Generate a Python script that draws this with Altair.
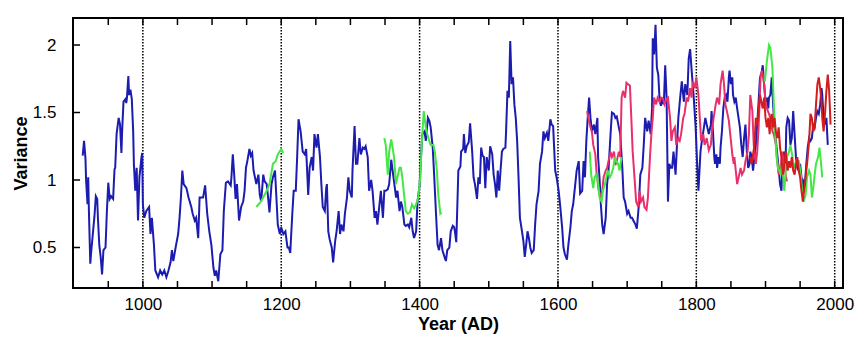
import altair as alt
import pandas as pd

# ---------------- data ----------------
blue_years = [913,915,917,918,920,921,922,924,925,928,930,932,934,935,937,939,941,943,946,948,
              950,952,954,957,959,960,962,965,967,969,970,972,975,976,977,979,980,982,984,986,
              987,989,991,993,995,998,999,1000,1002,1005,1009,1011,1013,1016,1018,1022,1025,1028,1031,1034,
              1037,1040,1042,1044,1048,1051,1053,1055,1057,1059,1063,1066,1070,1072,1075,1077,1080,1082,1087,1090,
              1093,1096,1099,1102,1104,1106,1109,1112,1115,1117,1120,1123,1127,1128,1130,1132,1134,1136,1139,1142,
              1145,1147,1149,1151,1154,1156,1158,1160,1162,1164,1167,1169,1171,1174,1176,1179,1181,1183,1186,1188,
              1191,1193,1195,1198,1200,1203,1206,1209,1211,1213,1216,1218,1221,1223,1225,1228,1231,1234,1236,1239,
              1241,1244,1246,1248,1251,1253,1256,1258,1260,1263,1265,1266,1268,1270,1273,1275,1278,1280,1283,1285,
              1287,1290,1292,1295,1297,1299,1302,1303,1306,1308,1310,1313,1315,1318,1320,1322,1325,1327,1330,1332,
              1335,1337,1339,1342,1344,1347,1349,1351,1354,1356,1359,1361,1363,1366,1368,1371,1373,1375,1378,1380,
              1383,1385,1388,1390,1392,1395,1397,1400,1402,1404,1407,1409,1412,1414,1416,1419,1421,1424,1426,1428,
              1431,1433,1436,1438,1440,1443,1445,1448,1450,1451,1453,1455,1456,1459,1460,1463,1464,1466,1468,1471,
              1473,1476,1478,1480,1483,1485,1487,1489,1491,1493,1495,1497,1500,1502,1505,1507,1509,1511,1513,1515,
              1517,1519,1521,1524,1525,1527,1529,1531,1533,1535,1537,1539,1541,1543,1545,1548,1550,1552,1554,1556,
              1558,1560,1562,1565,1567,1569,1572,1574,1577,1579,1581,1584,1586,1589,1591,1593,1596,1598,1601,1603,
              1606,1608,1610,1613,1615,1618,1620,1622,1625,1627,1630,1632,1635,1637,1639,1641,1643,1645,1647,1649,
              1652,1654,1657,1658,1660,1662,1664,1666,1669,1671,1673,1676,1678,1681,1683,1685,1688,1690,1693,1695,
              1697,1700,1702,1705,1707,1709,1712,1714,1717,1719,1722,1724,1726,1729,1731,1734,1736,1737,1739,1741,
              1743,1745,1747,1749,1751,1753,1755,1757,1759,1761,1763,1765,1767,1770,1772,1774,1777,1779,1782,1784,
              1787,1789,1791,1794,1796,1799,1801,1803,1806,1808,1811,1813,1815,1818,1821,1822,1824,1826,1827,1829,
              1830,1832,1834,1835,1837,1839,1841,1843,1845,1847,1848,1850,1852,1853,1855,1857,1859,1861,1863,1865,
              1867,1869,1871,1873,1875,1877,1878,1880,1882,1884,1886,1888,1890,1892,1894,1896,1898,1900,1902,1904,
              1905,1907,1909,1911,1913,1915,1917,1919,1921,1923,1925,1927,1929,1930,1932,1934,1936,1938,1940,1942,
              1944,1946,1948,1950,1952,1954,1955,1957,1959,1961,1963,1965,1967,1969,1971,1973,1975,1977,1979,1981,
              1982,1984,1986,1988,1990]
blue_vals = [1.18,1.29,1.16,0.99,0.82,1.02,0.77,0.38,0.45,0.62,0.73,0.88,0.86,0.72,0.52,0.43,0.30,0.48,0.50,0.77,
             0.98,0.86,0.88,0.86,1.08,1.09,1.34,1.46,1.41,1.20,1.36,1.58,1.60,1.57,1.61,1.77,1.63,1.67,1.60,1.36,
             1.12,0.92,1.09,0.70,1.02,1.17,1.20,0.82,0.72,0.77,0.80,0.60,0.72,0.52,0.33,0.28,0.33,0.30,0.33,0.28,
             0.33,0.39,0.48,0.40,0.52,0.60,0.72,0.87,1.07,0.97,0.94,0.87,0.80,0.75,0.70,0.72,0.57,0.87,0.87,0.96,
             0.75,0.62,0.52,0.35,0.29,0.33,0.25,0.45,0.48,0.77,0.98,0.99,0.96,1.02,1.19,1.04,0.86,0.97,0.70,0.80,
             0.84,0.92,1.09,1.14,1.23,1.18,1.20,1.07,1.02,0.97,1.04,0.89,0.84,1.04,0.99,0.97,0.87,0.76,0.97,1.02,
             1.07,0.87,0.67,0.60,0.65,0.60,0.62,0.50,0.50,0.46,0.75,0.92,0.92,1.17,1.45,1.36,1.21,1.19,1.23,0.89,
             1.09,1.17,1.07,1.34,1.24,1.34,1.17,0.97,0.80,0.77,0.94,0.97,0.62,0.56,0.50,0.39,0.55,0.62,0.77,0.60,
             0.67,0.62,0.75,0.87,1.02,0.92,0.87,1.07,1.40,1.12,1.12,1.31,1.19,1.24,1.23,1.25,1.17,0.92,1.00,0.92,
             0.72,0.77,0.67,0.82,0.92,0.72,0.92,0.92,0.93,0.97,1.15,1.07,0.99,0.87,0.92,0.77,0.84,0.80,0.67,0.66,
             0.67,0.65,0.72,0.62,0.57,0.62,0.84,0.96,1.17,1.34,1.36,1.29,1.46,1.44,1.39,1.24,1.04,0.72,0.52,0.48,
             0.57,0.48,0.43,0.40,0.48,0.50,0.62,0.66,0.65,0.62,0.54,0.89,1.07,1.10,1.21,1.23,1.34,1.20,1.25,1.28,
             1.42,1.21,1.02,0.97,0.86,1.02,0.97,1.24,1.18,1.17,0.94,1.17,1.07,1.25,1.19,1.04,0.97,0.87,1.07,0.92,
             1.07,1.21,1.23,1.24,1.36,1.66,1.61,2.03,1.71,1.76,1.56,1.46,1.29,1.02,0.72,0.62,0.55,0.43,0.52,0.62,
             0.57,0.50,0.46,0.48,0.67,0.82,0.92,1.12,1.21,1.36,1.31,1.35,1.29,1.45,1.41,1.40,1.07,1.02,0.92,0.82,
             0.65,0.50,0.45,0.41,0.52,0.65,0.77,0.82,0.97,1.07,1.14,0.90,0.92,1.14,1.02,1.29,1.46,1.61,1.46,1.36,
             1.41,1.34,1.46,1.17,1.02,0.82,0.67,0.60,0.72,0.97,1.07,1.34,1.50,1.49,1.46,1.47,1.39,1.34,1.09,0.87,
             0.84,0.75,0.77,0.72,0.72,0.70,0.67,0.64,0.82,1.04,1.09,1.26,1.46,1.36,1.44,1.34,1.53,2.05,1.93,2.15,
             1.83,1.78,1.58,1.55,1.61,1.56,1.85,1.61,0.84,1.12,1.09,1.09,1.21,1.04,1.26,1.46,1.63,1.73,1.58,1.71,
             1.63,1.90,1.97,1.76,1.63,1.39,1.14,0.92,1.21,1.29,1.39,1.46,1.41,1.34,1.41,1.51,1.36,1.17,1.12,1.19,
             1.09,1.17,1.12,1.24,1.36,1.53,1.61,1.63,1.58,1.76,1.81,1.71,1.76,1.63,1.58,1.61,1.53,1.46,1.39,1.26,
             1.17,1.31,1.41,1.21,1.09,1.12,1.21,1.17,1.07,1.17,1.26,1.41,1.58,1.76,1.78,1.85,1.71,1.58,1.61,1.53,
             1.61,1.63,1.76,1.56,1.39,1.29,1.19,1.09,0.97,0.92,1.14,1.21,1.12,1.39,1.46,1.44,1.26,1.31,1.51,1.34,
             1.17,1.09,1.07,1.12,1.02,0.92,0.99,0.97,1.12,1.24,1.31,1.29,1.31,1.41,1.39,1.46,1.51,1.49,1.56,1.68,
             1.63,1.46,1.41,1.46,1.26]

pink_years = [1642,1644,1647,1649,1651,1654,1656,1659,1661,1664,1666,1669,1671,1673,1676,1678,1681,1683,1685,1688,
              1690,1692,1694,1697,1699,1701,1704,1706,1708,1711,1713,1716,1718,1720,1723,1725,1728,1730,1733,1735,
              1737,1739,1742,1744,1747,1749,1752,1754,1757,1759,1762,1764,1766,1769,1771,1774,1776,1778,1781,1783,
              1786,1788,1791,1793,1795,1798,1800,1803,1805,1807,1810,1812,1815,1818,1821,1823,1825,1828,1830,1833,
              1835,1838,1840,1842,1845,1847,1850,1852,1854,1855,1857,1859,1862,1864,1866,1869,1871,1874,1876,1878,
              1881,1883,1886,1888,1890,1893,1895,1898,1900,1902,1905,1907,1910,1912,1915,1917,1919,1922,1924,1926,
              1929,1931]
pink_vals = [1.51,1.46,1.39,1.36,1.26,1.19,1.04,0.92,0.87,0.92,1.02,1.07,1.09,1.14,1.21,1.17,1.21,1.11,1.14,1.21,
             1.17,1.61,1.66,1.61,1.72,1.71,1.70,1.46,1.21,0.99,0.84,0.80,0.92,0.84,0.87,0.80,0.78,0.87,1.17,1.34,
             1.46,1.61,1.56,1.61,1.58,1.61,1.60,1.56,1.60,1.61,1.46,1.29,1.36,1.39,1.26,1.31,1.29,1.34,1.46,1.49,
             1.61,1.58,1.68,1.61,1.73,1.68,1.76,1.63,1.46,1.29,1.34,1.26,1.31,1.22,1.26,1.39,1.46,1.56,1.61,1.56,
             1.71,1.81,1.71,1.56,1.49,1.44,1.29,1.19,1.12,1.17,1.07,0.97,1.04,1.09,1.04,1.07,1.14,1.21,1.34,1.63,
             1.51,1.26,1.12,1.21,1.39,1.78,1.81,1.71,1.58,1.53,1.49,1.46,1.36,1.34,1.26,1.14,1.04,1.09,1.21,1.14,
             1.04,0.99]

green_seg = ["g1"] * 10 + ["g2"] * 33 + ["g3"] * 20 + ["g4"] * 37
green_years = [1164,1169,1174,1179,1183,1188,1192,1195,1200,1203,
               1349,1351,1354,1356,1359,1361,1363,1366,1368,1371,1373,1375,1378,1380,1383,1386,1389,1392,1395,1398,
               1401,1403,1406,1409,1411,1414,1416,1420,1422,1425,1427,1430,1432,
               1646,1648,1651,1653,1655,1658,1660,1663,1665,1668,1670,1672,1675,1677,1680,1682,1684,1687,1689,1692,
               1899,1902,1905,1907,1910,1912,1914,1916,1918,1920,1922,1924,1927,1929,1931,1934,1936,1939,1941,1943,
               1946,1948,1951,1953,1955,1958,1960,1963,1965,1967,1969,1971,1973,1976,1978,1980,1982]
green_vals = [0.80,0.83,0.87,0.92,0.97,1.12,1.14,1.19,1.23,1.20,
              1.31,1.26,1.04,1.21,1.30,1.24,1.17,0.97,1.02,1.09,1.09,1.02,0.87,0.77,0.75,0.76,0.82,0.79,0.82,0.87,
              1.02,1.26,1.51,1.39,1.34,1.29,1.26,1.26,1.21,1.07,0.89,0.75,0.76,
              1.21,1.04,0.94,1.02,1.04,0.99,0.87,0.84,0.92,0.97,1.02,1.07,1.02,1.04,1.09,1.17,1.14,1.12,1.07,1.17,
              1.73,1.88,2.00,1.98,1.83,1.56,1.34,1.17,1.09,1.07,1.04,1.14,0.92,1.04,1.17,1.21,1.26,1.17,1.09,1.12,
              1.14,1.14,1.04,0.92,0.84,0.89,1.02,1.07,1.04,0.87,0.94,1.04,1.12,1.17,1.24,1.14,1.02]

red_years = [1878,1880,1882,1884,1886,1888,1890,1892,1894,1896,1898,1900,1902,1904,1906,1907,1909,1911,1913,1915,
             1917,1919,1921,1923,1925,1927,1929,1930,1932,1934,1936,1938,1940,1942,1944,1946,1948,1950,1952,1954,
             1955,1957,1959,1961,1963,1965,1967,1969,1971,1973,1975,1977,1979,1981,1982,1984,1986,1988,1990,1992,
             1994]
red_vals = [1.17,1.12,1.19,1.26,1.46,1.41,1.51,1.63,1.58,1.53,1.61,1.46,1.39,1.46,1.34,1.44,1.49,1.39,1.46,1.36,
            1.31,1.39,1.24,1.17,1.04,1.11,1.21,1.17,1.07,1.14,1.09,1.17,1.07,1.04,1.11,1.17,1.07,1.02,0.92,0.84,
            0.89,0.97,1.07,1.17,1.29,1.49,1.46,1.36,1.39,1.56,1.71,1.76,1.68,1.58,1.46,1.36,1.49,1.66,1.78,1.66,
            1.41]

label_years = [1000, 1200, 1400, 1600, 1800, 2000]
minor_tick_years = list(range(950, 2001, 50))
y_tick_values = [0.5, 1, 1.5, 2]

# ---------------- tables ----------------
frames = [
    pd.DataFrame({"year": blue_years, "value": blue_vals, "series": "blue", "seg": "b"}),
    pd.DataFrame({"year": pink_years, "value": pink_vals, "series": "pink", "seg": "p"}),
    pd.DataFrame({"year": green_years, "value": green_vals, "series": "green", "seg": green_seg}),
    pd.DataFrame({"year": red_years, "value": red_vals, "series": "red", "seg": "r"}),
]
df = pd.concat(frames, ignore_index=True)
order_map = {"blue": 0, "pink": 1, "green": 2, "red": 3}
df["ord"] = df["series"].map(order_map)

W, H = 770, 270
FONT = "Liberation Sans"

xscale = alt.Scale(domain=[899, 2012], nice=False, zero=False)
yscale = alt.Scale(domain=[0.2, 2.2], nice=False, zero=False)

xaxis = alt.Axis(title="Year (AD)", values=label_years, format="d", ticks=False, domain=False,
                 grid=False, labelFontSize=17, labelPadding=8, labelFont=FONT, labelColor="black",
                 titleFont=FONT, titleFontSize=18, titleFontWeight="bold", titlePadding=3,
                 titleColor="black")
yaxis = alt.Axis(title="Variance", values=y_tick_values, format="~g", ticks=False, domain=False,
                 grid=False, labelFontSize=17, labelPadding=17, labelFont=FONT, labelColor="black",
                 titleFont=FONT, titleFontSize=18, titleFontWeight="bold", titlePadding=2,
                 titleColor="black")

dotted = alt.Chart(pd.DataFrame({"year": label_years})).mark_rule(
    color="black", strokeWidth=1.5, strokeDash=[1.5, 1.5]
).encode(x=alt.X("year:Q", scale=xscale, axis=xaxis))

lines = alt.Chart(df).mark_line(strokeWidth=2).encode(
    x=alt.X("year:Q", scale=xscale, axis=xaxis),
    y=alt.Y("value:Q", scale=yscale, axis=yaxis),
    color=alt.Color("series:N", legend=None,
                    scale=alt.Scale(domain=["blue", "pink", "green", "red"],
                                    range=["#1c1cb0", "#e8306c", "#44e844", "#d41c1c"])),
    detail="seg:N",
    order="ord:Q",
)

tick_df = pd.DataFrame({"year": minor_tick_years})
bottom_ticks = alt.Chart(tick_df).mark_rule(color="black", strokeWidth=1.5).encode(
    x=alt.X("year:Q", scale=xscale, axis=xaxis), y=alt.value(H - 7), y2=alt.value(H))
top_ticks = alt.Chart(tick_df).mark_rule(color="black", strokeWidth=1.5).encode(
    x=alt.X("year:Q", scale=xscale, axis=xaxis), y=alt.value(0), y2=alt.value(7))
left_ticks = alt.Chart(pd.DataFrame({"v": y_tick_values})).mark_rule(color="black", strokeWidth=1.5).encode(
    y=alt.Y("v:Q", scale=yscale, axis=yaxis), x=alt.value(0), x2=alt.value(7))

chart = alt.layer(dotted, lines, bottom_ticks, top_ticks, left_ticks).properties(
    width=W, height=H,
    autosize=alt.AutoSizeParams(type="none"),
    padding={"left": 73, "top": 18, "right": 24, "bottom": 58},
    background="white",
).configure_view(stroke="black", strokeWidth=2)

chart.save("out.html", embed_options={"renderer": "svg", "actions": False})
